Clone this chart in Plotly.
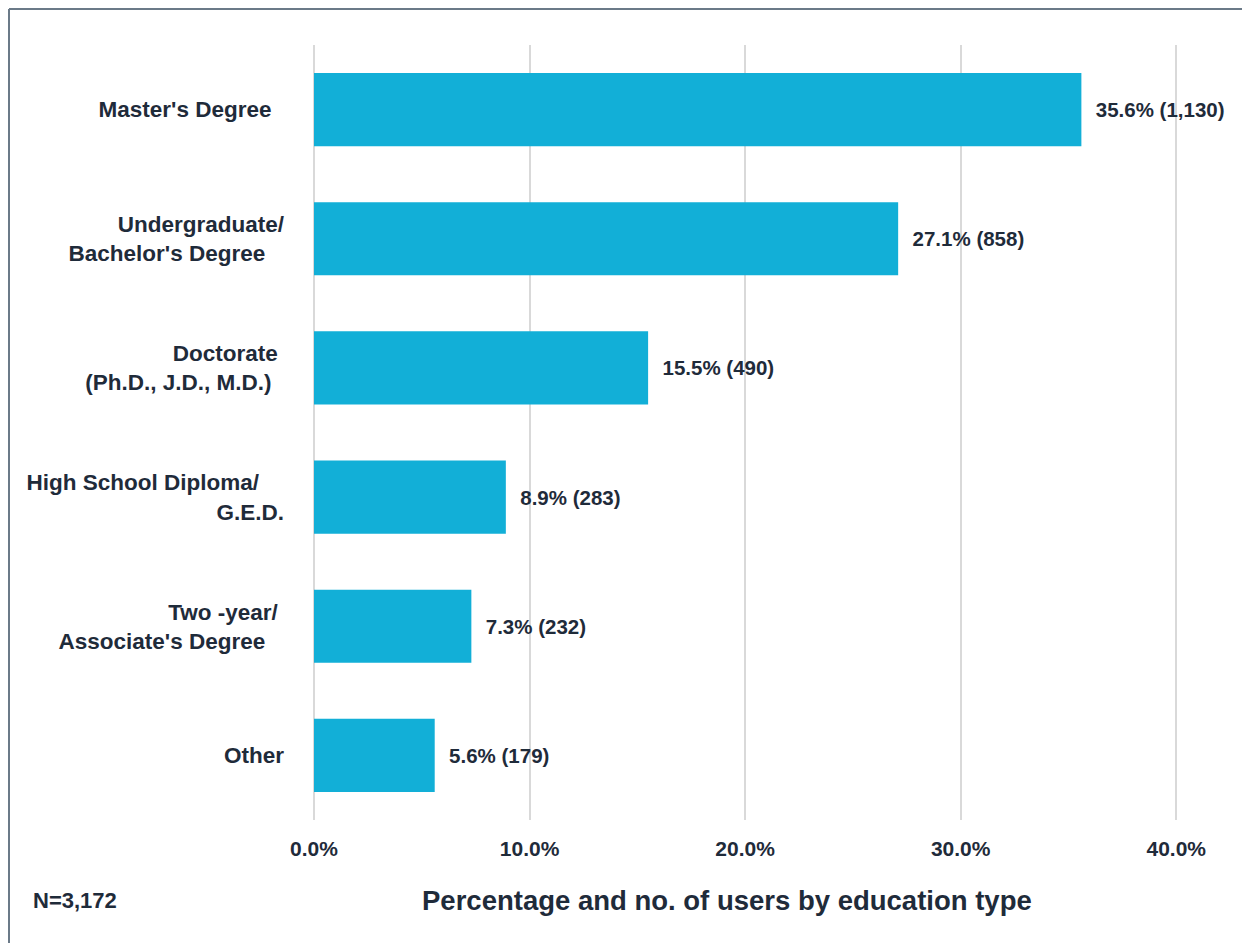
import plotly.graph_objects as go

categories = [
    "Master's Degree",
    "Undergraduate/<br>Bachelor's Degree",
    "Doctorate<br>(Ph.D., J.D., M.D.)",
    "High School Diploma/<br>G.E.D.",
    "Two -year/<br>Associate's Degree",
    "Other",
]
tick_text = [
    "Master's Degree\u00a0\u00a0",
    "Undergraduate/<br>Bachelor's Degree\u00a0\u00a0\u00a0",
    "Doctorate\u00a0<br>(Ph.D., J.D., M.D.)\u00a0\u00a0",
    "High School Diploma/\u00a0\u00a0\u00a0\u00a0<br>G.E.D.",
    "Two -year/\u00a0<br>Associate's Degree\u00a0\u00a0\u00a0",
    "Other",
]
percent = [35.6, 27.1, 15.5, 8.9, 7.3, 5.6]
counts = [1130, 858, 490, 283, 232, 179]
x_ticks = [0, 10, 20, 30, 40]
x_tick_labels = ["0.0%", "10.0%", "20.0%", "30.0%", "40.0%"]

TXT = "#1f2b3a"
BAR = "#12AFD7"
FONT = "Liberation Sans"

# page body has an 8px margin; compensate in figure coordinates
OFF = 8
L = 314 - OFF
T = 45 - OFF
PW = 873
PH = 775
W = 1250 - OFF
H = 943 - OFF


def px(x):
    return (x - OFF - L) / PW


def py(y):
    return (T + PH - (y - OFF)) / PH


labels = ["\u00a0\u00a0" + f"{p:.1f}% ({n:,})" for p, n in zip(percent, counts)]

fig = go.Figure(
    go.Bar(
        y=categories,
        x=percent,
        orientation="h",
        marker=dict(color=BAR, line=dict(width=0)),
        width=0.566,
        text=labels,
        textposition="outside",
        cliponaxis=False,
        textfont=dict(family=FONT, size=20.5, color=TXT, weight="bold"),
        hoverinfo="skip",
    )
)

fig.update_layout(
    width=W,
    height=H,
    margin=dict(l=L, r=W - L - PW, t=T, b=H - T - PH, pad=0),
    paper_bgcolor="white",
    plot_bgcolor="white",
    showlegend=False,
    font=dict(family=FONT, color=TXT),
    xaxis=dict(
        range=[0, 40.5],
        tickvals=x_ticks,
        ticktext=x_tick_labels,
        showgrid=True,
        gridcolor="#d9d9d9",
        gridwidth=1.5,
        zeroline=True,
        zerolinecolor="#d9d9d9",
        zerolinewidth=1.5,
        showline=False,
        ticks="",
        ticklabelstandoff=14,
        tickfont=dict(family=FONT, size=21, color=TXT, weight="bold"),
        fixedrange=True,
    ),
    yaxis=dict(
        categoryorder="array",
        categoryarray=categories[::-1],
        tickvals=categories,
        ticktext=tick_text,
        range=[-0.5, 5.5],
        showgrid=False,
        zeroline=False,
        showline=False,
        ticks="",
        ticklabelstandoff=29,
        tickfont=dict(family=FONT, size=22.5, color=TXT, weight="bold"),
        fixedrange=True,
    ),
    annotations=[
        dict(
            text="Percentage and no. of users by education type",
            xref="paper", yref="paper",
            x=px(727), y=py(900),
            xanchor="center", yanchor="middle",
            showarrow=False,
            font=dict(family=FONT, size=27.5, color=TXT, weight="bold"),
        ),
        dict(
            text="N=3,172",
            xref="paper", yref="paper",
            x=px(31), y=py(900),
            xanchor="left", yanchor="middle",
            showarrow=False,
            font=dict(family=FONT, size=22, color=TXT, weight="bold"),
        ),
    ],
    shapes=[
        dict(type="line", xref="paper", yref="paper",
             x0=px(OFF + 1), x1=px(1270),
             y0=py(OFF + 1), y1=py(OFF + 1),
             line=dict(color="#6b7a88", width=2)),
        dict(type="line", xref="paper", yref="paper",
             x0=px(OFF + 1), x1=px(OFF + 1),
             y0=py(OFF + 1), y1=py(980),
             line=dict(color="#6b7a88", width=2)),
    ],
)

fig.write_html("out.html")
